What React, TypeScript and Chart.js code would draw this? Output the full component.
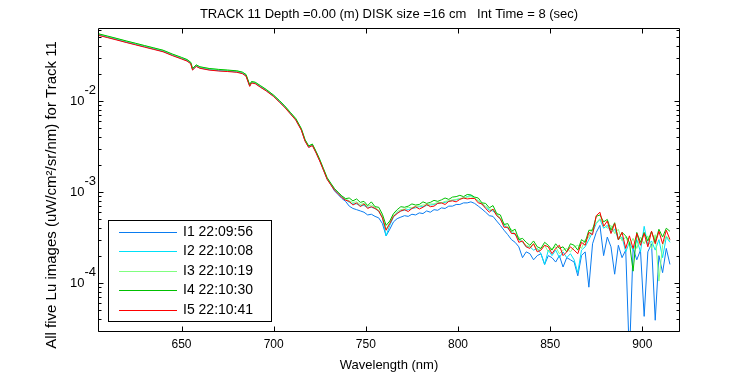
import { useEffect, useRef } from 'react';
import { Chart, registerables } from 'chart.js';

Chart.register(...registerables);

// ---------- data ----------
const wavelengths = [
  605, 610, 615, 620, 625, 630, 635, 640, 645, 650,
  653, 655, 656, 658, 660, 665, 670, 675, 680, 683,
  685, 687, 688, 690, 693, 696, 700, 703, 706, 709,
  712, 715, 717, 719, 721, 723, 725, 727, 729, 731,
  733, 735, 737, 739,
  741, 743, 745, 747, 749, 751, 753, 755, 757, 759,
  761, 763, 765, 767, 769, 771, 773, 775, 777, 779,
  781, 783, 785, 787, 789, 791, 793, 795, 797, 799,
  801, 803, 805, 807, 809, 811, 813, 815, 817, 819,
  821, 823, 825, 827, 829, 831, 833, 835, 837, 839,
  841, 843, 845, 847, 849, 851, 853, 855, 857, 859,
  861, 863, 865, 867, 869, 871, 873, 875, 877, 879,
  881, 883, 885, 887, 889, 891, 893, 895, 897, 899,
  901, 903, 905, 907, 909, 911, 913, 915,
];

const seriesLabels = ['I1 22:09:56', 'I2 22:10:08', 'I3 22:10:19', 'I4 22:10:30', 'I5 22:10:41'];
const seriesColors = ['#0a7cf0', '#00e0f8', '#80ff80', '#00c000', '#ff0000'];

const luI1 = [
  0.0532, 0.0502, 0.0473, 0.0444, 0.0419, 0.0395, 0.0373, 0.0351, 0.0319, 0.0293,
  0.0278, 0.0260, 0.0221, 0.0242, 0.0231, 0.0221, 0.0216, 0.0213, 0.0209, 0.0202,
  0.0190, 0.0146, 0.0160, 0.0157, 0.0142, 0.0130, 0.0113, 0.00987, 0.00860, 0.00731,
  0.00623, 0.00484, 0.00367, 0.00312, 0.00327, 0.00272, 0.00221, 0.00176, 0.00139, 0.00121,
  0.00103, 0.000935, 0.000850, 0.000790,
  7.0e-4, 6.6e-4, 6.4e-4, 6.2e-4, 6.0e-4, 5.6e-4, 5.7e-4, 5.4e-4, 5.2e-4, 4.5e-4,
  3.3e-4, 3.9e-4, 4.7e-4, 5.1e-4, 5.3e-4, 5.5e-4, 5.4e-4, 5.7e-4, 5.6e-4, 5.9e-4,
  5.8e-4, 6.2e-4, 6.0e-4, 6.4e-4, 6.3e-4, 6.7e-4, 6.6e-4, 7.0e-4, 7.0e-4, 7.3e-4,
  7.3e-4, 7.6e-4, 7.6e-4, 7.8e-4, 7.5e-4, 7.0e-4, 6.5e-4, 6.0e-4, 5.5e-4, 5.4e-4,
  4.8e-4, 4.3e-4, 3.8e-4, 3.4e-4, 3.0e-4, 2.8e-4, 2.5e-4, 1.9e-4, 2.2e-4, 2.1e-4,
  1.8e-4, 2.0e-4, 2.1e-4, 1.6e-4, 2.0e-4, 1.9e-4, 1.7e-4, 2.0e-4, 1.5e-4, 1.9e-4,
  1.8e-4, 1.7e-4, 1.2e-4, 2.0e-4, 2.2e-4, 9.0e-5, 2.7e-4, 3.6e-4, 4.3e-4, 2.0e-4,
  3.2e-4, 2.5e-4, 1.25e-4, 2.6e-4, 1.9e-4, 2.3e-4, 1.5e-5, 2.4e-4, 1.8e-4, 2.3e-4,
  4.3e-5, 2.2e-4, 2.7e-4, 3.9e-5, 2.0e-4, 1.3e-4, 2.4e-4, 1.6e-4,
];

const luI2 = [
  0.0538, 0.0507, 0.0477, 0.0449, 0.0423, 0.0399, 0.0376, 0.0355, 0.0322, 0.0296,
  0.0281, 0.0262, 0.0223, 0.0245, 0.0234, 0.0223, 0.0218, 0.0215, 0.0211, 0.0204,
  0.0192, 0.0148, 0.0161, 0.0158, 0.0144, 0.0132, 0.0114, 0.00997, 0.00868, 0.00738,
  0.00629, 0.00489, 0.00370, 0.00315, 0.00330, 0.00274, 0.00223, 0.00177, 0.00141, 0.00122,
  0.00107, 0.000974, 0.000888, 0.000829,
  7.7e-4, 7.4e-4, 7.4e-4, 7.1e-4, 7.1e-4, 6.8e-4, 6.8e-4, 6.6e-4, 6.1e-4, 5.2e-4,
  3.3e-4, 4.3e-4, 5.3e-4, 5.9e-4, 6.2e-4, 6.3e-4, 6.4e-4, 6.6e-4, 6.7e-4, 6.9e-4,
  6.9e-4, 7.1e-4, 7.2e-4, 7.3e-4, 7.5e-4, 7.6e-4, 7.7e-4, 7.9e-4, 8.1e-4, 8.2e-4,
  8.4e-4, 8.6e-4, 8.9e-4, 9.2e-4, 8.6e-4, 8.0e-4, 7.3e-4, 6.8e-4, 6.3e-4, 6.2e-4,
  5.6e-4, 5.0e-4, 4.3e-4, 4.0e-4, 3.6e-4, 3.4e-4, 3.0e-4, 2.8e-4, 2.5e-4, 2.5e-4,
  2.3e-4, 2.4e-4, 2.1e-4, 1.6e-4, 2.3e-4, 2.0e-4, 2.3e-4, 1.9e-4, 2.2e-4, 1.9e-4,
  2.1e-4, 1.8e-4, 1.3e-4, 2.3e-4, 2.5e-4, 3.0e-4, 3.6e-4, 4.5e-4, 5.0e-4, 4.0e-4,
  4.3e-4, 3.6e-4, 3.9e-4, 3.0e-4, 3.2e-4, 2.2e-4, 2.8e-4, 2.3e-4, 3.0e-4, 2.2e-4,
  4.2e-4, 2.6e-4, 2.9e-4, 2.3e-4, 3.0e-4, 1.9e-4, 3.2e-4, 2.8e-4,
];

const luI3 = [
  0.0546, 0.0514, 0.0485, 0.0455, 0.0430, 0.0405, 0.0382, 0.0360, 0.0327, 0.0300,
  0.0285, 0.0266, 0.0227, 0.0248, 0.0237, 0.0227, 0.0222, 0.0218, 0.0214, 0.0207,
  0.0195, 0.0150, 0.0163, 0.0160, 0.0146, 0.0133, 0.0116, 0.0101, 0.00880, 0.00749,
  0.00639, 0.00496, 0.00376, 0.00320, 0.00335, 0.00278, 0.00227, 0.00180, 0.00143, 0.00124,
  0.00109, 0.000988, 0.000901, 0.000842,
  8.0e-4, 7.7e-4, 7.8e-4, 7.3e-4, 7.5e-4, 7.0e-4, 7.2e-4, 6.8e-4, 6.3e-4, 5.4e-4,
  3.9e-4, 4.6e-4, 5.6e-4, 6.1e-4, 6.4e-4, 6.5e-4, 6.8e-4, 6.7e-4, 7.0e-4, 7.0e-4,
  7.2e-4, 7.2e-4, 7.4e-4, 7.4e-4, 7.7e-4, 7.6e-4, 7.9e-4, 8.0e-4, 8.2e-4, 8.3e-4,
  8.5e-4, 8.6e-4, 8.8e-4, 8.9e-4, 8.6e-4, 8.0e-4, 7.5e-4, 7.0e-4, 6.5e-4, 6.4e-4,
  5.8e-4, 5.1e-4, 4.5e-4, 4.1e-4, 3.9e-4, 3.4e-4, 3.2e-4, 2.8e-4, 2.6e-4, 2.5e-4,
  2.7e-4, 2.3e-4, 2.4e-4, 2.6e-4, 2.2e-4, 2.4e-4, 2.5e-4, 2.1e-4, 2.3e-4, 2.4e-4,
  2.2e-4, 2.5e-4, 2.6e-4, 2.4e-4, 3.0e-4, 3.2e-4, 4.0e-4, 4.6e-4, 5.1e-4, 4.4e-4,
  4.0e-4, 4.3e-4, 3.5e-4, 3.9e-4, 2.9e-4, 3.2e-4, 2.6e-4, 3.1e-4, 2.4e-4, 3.2e-4,
  2.7e-4, 3.3e-4, 2.4e-4, 3.4e-4, 1.05e-4, 2.6e-4, 3.3e-4, 2.9e-4,
];

const luI4 = [
  0.0548, 0.0517, 0.0487, 0.0458, 0.0432, 0.0407, 0.0384, 0.0362, 0.0329, 0.0302,
  0.0286, 0.0267, 0.0228, 0.0250, 0.0238, 0.0228, 0.0223, 0.0219, 0.0215, 0.0208,
  0.0196, 0.0151, 0.0164, 0.0161, 0.0147, 0.0134, 0.0116, 0.0102, 0.00885, 0.00753,
  0.00642, 0.00498, 0.00378, 0.00321, 0.00337, 0.00280, 0.00228, 0.00181, 0.00144, 0.00125,
  0.00109, 0.000993, 0.000906, 0.000846,
  8.6e-4, 8.0e-4, 8.4e-4, 7.7e-4, 7.9e-4, 7.1e-4, 7.8e-4, 6.9e-4, 6.8e-4, 5.7e-4,
  4.3e-4, 4.8e-4, 5.8e-4, 6.4e-4, 6.9e-4, 6.8e-4, 7.0e-4, 7.4e-4, 7.2e-4, 7.3e-4,
  7.8e-4, 7.5e-4, 7.7e-4, 8.1e-4, 7.9e-4, 8.2e-4, 8.6e-4, 8.3e-4, 8.8e-4, 8.9e-4,
  9.2e-4, 8.9e-4, 9.4e-4, 9.3e-4, 8.8e-4, 8.6e-4, 7.6e-4, 7.5e-4, 6.7e-4, 7.1e-4,
  5.8e-4, 5.6e-4, 4.4e-4, 4.5e-4, 3.7e-4, 3.9e-4, 3.0e-4, 3.1e-4, 2.8e-4, 2.6e-4,
  2.9e-4, 2.5e-4, 2.4e-4, 2.8e-4, 2.6e-4, 2.3e-4, 2.7e-4, 2.4e-4, 2.5e-4, 2.2e-4,
  2.7e-4, 2.6e-4, 2.3e-4, 3.0e-4, 2.8e-4, 3.8e-4, 3.8e-4, 5.4e-4, 5.6e-4, 4.7e-4,
  5.0e-4, 3.8e-4, 4.6e-4, 3.0e-4, 3.6e-4, 3.3e-4, 2.8e-4, 1.35e-4, 3.6e-4, 2.8e-4,
  3.6e-4, 2.9e-4, 3.7e-4, 2.8e-4, 3.9e-4, 3.2e-4, 4.0e-4, 3.7e-4,
];

const luI5 = [
  0.0527, 0.0497, 0.0468, 0.0440, 0.0415, 0.0391, 0.0369, 0.0348, 0.0316, 0.0290,
  0.0275, 0.0257, 0.0219, 0.0240, 0.0229, 0.0219, 0.0214, 0.0211, 0.0207, 0.0200,
  0.0188, 0.0145, 0.0158, 0.0155, 0.0141, 0.0129, 0.0112, 0.00977, 0.00851, 0.00724,
  0.00617, 0.00479, 0.00363, 0.00309, 0.00324, 0.00269, 0.00219, 0.00174, 0.00138, 0.00120,
  0.00105, 0.000955, 0.000871, 0.000813,
  7.9e-4, 7.2e-4, 7.6e-4, 6.9e-4, 7.4e-4, 6.6e-4, 6.9e-4, 6.6e-4, 6.2e-4, 5.2e-4,
  3.8e-4, 4.5e-4, 5.4e-4, 5.8e-4, 6.2e-4, 6.4e-4, 6.1e-4, 6.6e-4, 6.9e-4, 6.5e-4,
  6.8e-4, 7.3e-4, 6.9e-4, 7.0e-4, 7.5e-4, 7.6e-4, 7.3e-4, 7.9e-4, 8.0e-4, 7.8e-4,
  8.3e-4, 8.6e-4, 8.4e-4, 8.5e-4, 8.5e-4, 7.6e-4, 7.4e-4, 6.6e-4, 6.0e-4, 6.5e-4,
  5.5e-4, 5.1e-4, 4.1e-4, 4.1e-4, 3.5e-4, 3.5e-4, 2.8e-4, 2.9e-4, 2.5e-4, 2.4e-4,
  2.7e-4, 2.2e-4, 2.3e-4, 2.6e-4, 2.5e-4, 2.1e-4, 2.4e-4, 2.6e-4, 2.0e-4, 2.2e-4,
  2.5e-4, 2.3e-4, 2.1e-4, 2.8e-4, 2.6e-4, 3.6e-4, 3.4e-4, 5.5e-4, 6.0e-4, 4.2e-4,
  4.8e-4, 3.5e-4, 4.5e-4, 3.0e-4, 3.6e-4, 2.4e-4, 3.3e-4, 2.4e-4, 3.5e-4, 2.6e-4,
  3.5e-4, 2.5e-4, 3.7e-4, 2.7e-4, 3.7e-4, 2.7e-4, 3.8e-4, 3.0e-4,
];

const allSeries = [luI1, luI2, luI3, luI4, luI5];

const xTicks = [650, 700, 750, 800, 850, 900];
const yDecades = [1e-4, 1e-3, 1e-2];
const yDecadeExponents = ['-4', '-3', '-2'];
const yMinorMultipliers = [2, 3, 4, 5, 6, 7, 8, 9];
const allDecades = [1e-5, 1e-4, 1e-3, 1e-2, 1e-1];

const titleText = 'TRACK 11 Depth =0.00 (m) DISK size =16 cm   Int Time = 8 (sec)';
const xTitle = 'Wavelength (nm)';
const yTitle = 'All five Lu images (uW/cm\u00B2/sr/nm) for Track 11';

const FONT = "'Liberation Sans', Arial, Helvetica, sans-serif";

const matlabFrame = {
  id: 'matlabFrame',
  afterDatasetsDraw(chart: any) {
    const { ctx, chartArea: a, scales } = chart;
    const xs = scales.x;
    const ys = scales.y;
    const L = Math.round(a.left) + 0.5;
    const R = Math.round(a.right) + 0.5;
    const T = Math.round(a.top) + 0.5;
    const B = Math.round(a.bottom) + 0.5;
    ctx.save();
    ctx.strokeStyle = '#000';
    ctx.lineWidth = 1;
    ctx.beginPath();
    ctx.rect(L, T, R - L, B - T);
    for (const v of xTicks) {
      const px = Math.round(xs.getPixelForValue(v)) + 0.5;
      ctx.moveTo(px, B); ctx.lineTo(px, B - 5);
      ctx.moveTo(px, T); ctx.lineTo(px, T + 5);
    }
    for (const d of allDecades) {
      for (const m of [1, ...yMinorMultipliers]) {
        const v = m * d;
        if (v < ys.min || v > ys.max) continue;
        const py = Math.round(ys.getPixelForValue(v)) + 0.5;
        const len = m === 1 ? 5 : 3;
        ctx.moveTo(L, py); ctx.lineTo(L + len, py);
        ctx.moveTo(R, py); ctx.lineTo(R - len, py);
      }
    }
    ctx.stroke();

    ctx.fillStyle = '#000';
    // x tick labels
    ctx.font = `12px ${FONT}`;
    ctx.textAlign = 'center';
    ctx.textBaseline = 'middle';
    for (const v of xTicks) {
      ctx.fillText(String(v), xs.getPixelForValue(v), B + 13);
    }
    // y tick labels 10^n
    yDecades.forEach((v, i) => {
      const py = ys.getPixelForValue(v);
      ctx.font = `13px ${FONT}`;
      ctx.textAlign = 'right';
      ctx.textBaseline = 'middle';
      ctx.fillText('10', L - 14, py);
      ctx.textAlign = 'left';
      ctx.fillText(yDecadeExponents[i], L - 14, py - 11);
    });
    // title
    ctx.font = `13px ${FONT}`;
    ctx.textAlign = 'center';
    ctx.textBaseline = 'middle';
    ctx.fillText(titleText, (L + R) / 2, 14);
    // x title
    ctx.fillText(xTitle, (L + R) / 2, 365);
    // y title
    ctx.save();
    ctx.font = `15px ${FONT}`;
    ctx.translate(52, 195);
    ctx.rotate(-Math.PI / 2);
    ctx.fillText(yTitle, 0, 0);
    ctx.restore();

    // legend
    const lx = 108.5, ly = 220.5, lw = 163, lh = 101;
    ctx.fillStyle = '#fff';
    ctx.fillRect(lx, ly, lw, lh);
    ctx.strokeStyle = '#000';
    ctx.strokeRect(lx, ly, lw, lh);
    ctx.font = `14px ${FONT}`;
    ctx.textAlign = 'left';
    ctx.textBaseline = 'middle';
    chart.data.datasets.forEach((ds: any, i: number) => {
      const ry = Math.round(ly + 11.5 + i * 19.4) + 0.5;
      ctx.strokeStyle = ds.borderColor;
      ctx.beginPath();
      ctx.moveTo(119, ry);
      ctx.lineTo(177, ry);
      ctx.stroke();
      ctx.fillStyle = '#000';
      ctx.fillText(ds.label, 183, ry);
    });
    ctx.restore();
  },
};

export default function App() {
  const ref = useRef<HTMLCanvasElement>(null);
  useEffect(() => {
    const canvas = ref.current;
    if (!canvas) return;
    const datasets = allSeries.map((s, i) => ({
      label: seriesLabels[i],
      data: s.map((y, j) => ({ x: wavelengths[j], y })),
      borderColor: seriesColors[i],
      backgroundColor: seriesColors[i],
      borderWidth: 1,
      pointRadius: 0,
      tension: 0,
      fill: false,
      order: allSeries.length - i,
    }));
    const chart = new Chart(canvas, {
      type: 'line',
      data: { datasets },
      options: {
        animation: false,
        responsive: false,
        devicePixelRatio: 1,
        events: [],
        layout: { padding: { left: 98, right: 71, top: 28, bottom: 44 } },
        scales: {
          x: { type: 'linear', min: 604.7, max: 919.9, display: false },
          y: { type: 'logarithmic', min: 2.97e-5, max: 0.0635, display: false },
        },
        plugins: {
          legend: { display: false },
          title: { display: false },
          tooltip: { enabled: false },
        },
      },
      plugins: [matlabFrame],
    } as any);
    return () => chart.destroy();
  }, []);
  return (
    <div style={{ position: 'absolute', left: 0, top: 0, width: 750, height: 375, background: '#fff' }}>
      <canvas ref={ref} width={750} height={375} style={{ display: 'block', width: 750, height: 375 }} />
    </div>
  );
}
